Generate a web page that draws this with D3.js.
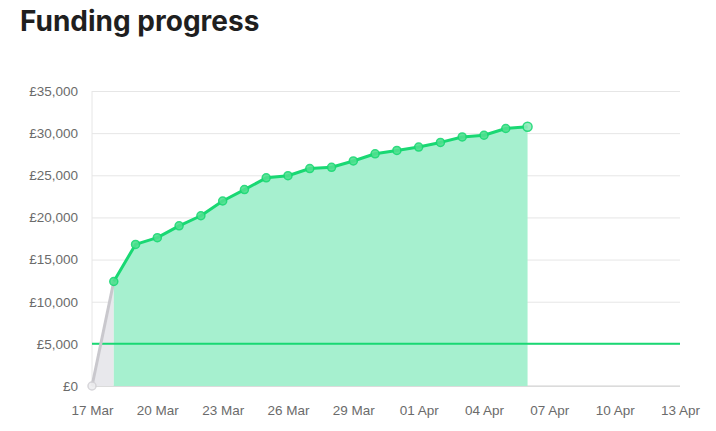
<!DOCTYPE html>
<html>
<head>
<meta charset="utf-8">
<script src="https://cdn.jsdelivr.net/npm/d3@7"></script>
<style>
  body { margin: 0; background: #fff; }
  svg text { font-family: "Liberation Sans", Arial, sans-serif; }
  .title { font-family: Inter, "Noto Sans", sans-serif; font-weight: 700; font-size: 28px; fill: #1f1f1f; }
  .axis text { font-size: 13.5px; fill: #6b6b6b; }
</style>
</head>
<body>
<svg id="chart"></svg>
<script>
// Daily cumulative totals (first point is the launch day)
const dates = ['2020-03-17','2020-03-18','2020-03-19','2020-03-20','2020-03-21','2020-03-22','2020-03-23',
  '2020-03-24','2020-03-25','2020-03-26','2020-03-27','2020-03-28','2020-03-29','2020-03-30','2020-03-31',
  '2020-04-01','2020-04-02','2020-04-03','2020-04-04','2020-04-05','2020-04-06'];
const amounts = [0, 12400, 16800, 17600, 19000, 20200, 21950, 23300, 24700, 24950, 25800, 25950,
  26700, 27550, 27950, 28350, 28900, 29550, 29750, 30550, 30750];
const target = 5000;
const xDomain = ['2020-03-17', '2020-04-13'];
const yTicks = [0, 5000, 10000, 15000, 20000, 25000, 30000, 35000];

const width = 716, height = 431;
const margin = {top: 91, right: 36, bottom: 45, left: 92};
const innerW = width - margin.left - margin.right;
const innerH = height - margin.top - margin.bottom;

const green = '#19d873', greenFill = '#a6f0cf', grey = '#c9c8cd', greyFill = '#e8e8ec';

const parse = d3.utcParse('%Y-%m-%d');
const data = dates.map((d, i) => ({date: parse(d), value: amounts[i]}));

const svg = d3.select('#chart').attr('width', width).attr('height', height);

svg.append('text').attr('class', 'title').attr('x', 20).attr('y', 31).text('Funding progress');

const x = d3.scaleUtc().domain(xDomain.map(parse)).range([0, innerW]);
const y = d3.scaleLinear().domain([0, 35000]).range([innerH, 0]);

const g = svg.append('g').attr('transform', `translate(${margin.left},${margin.top})`);

// y axis with gridlines
const yAxis = d3.axisLeft(y).tickValues(yTicks).tickSize(10)
  .tickFormat(d => '£' + d3.format(',')(d));
const yG = g.append('g').attr('class', 'axis').call(yAxis);
yG.select('.domain').remove();
yG.selectAll('.tick line').attr('x2', innerW).attr('stroke', '#e6e6e6');
yG.selectAll('.tick text').attr('x', -14);

g.append('line').attr('x1', 0).attr('x2', 0).attr('y1', 0).attr('y2', innerH)
  .attr('stroke', '#e6e6e6');

// x axis, a tick every third day from the start
const [x0, x1] = x.domain();
const xTicks = d3.utcDay.range(x0, d3.utcDay.offset(x1, 1), 3);
const xAxis = d3.axisBottom(x).tickValues(xTicks).tickSize(0)
  .tickFormat(d3.utcFormat('%d %b'));
const xG = g.append('g').attr('class', 'axis').attr('transform', `translate(0,${innerH})`).call(xAxis);
xG.select('.domain').attr('stroke', '#d0d0d0').attr('d', `M0,0H${innerW}`);
xG.selectAll('.tick text').attr('dy', 0).attr('y', 29);

const area = d3.area().x(d => x(d.date)).y0(innerH).y1(d => y(d.value));
const line = d3.line().x(d => x(d.date)).y(d => y(d.value));

const pre = data.slice(0, 2), post = data.slice(1);

g.append('path').datum(pre).attr('d', area).attr('fill', greyFill);
g.append('path').datum(post).attr('d', area).attr('fill', greenFill);

// target line
g.append('line').attr('x1', 0).attr('x2', innerW).attr('y1', y(target)).attr('y2', y(target))
  .attr('stroke', green).attr('stroke-width', 2);

g.append('path').datum(pre).attr('d', line).attr('fill', 'none')
  .attr('stroke', grey).attr('stroke-width', 3);
g.append('path').datum(post).attr('d', line).attr('fill', 'none')
  .attr('stroke', green).attr('stroke-width', 3).attr('stroke-linejoin', 'round');

g.selectAll('.pt').data(data).join('circle')
  .attr('class', 'pt')
  .attr('cx', d => x(d.date)).attr('cy', d => y(d.value))
  .attr('r', (d, i) => i === data.length - 1 ? 4.5 : 4)
  .attr('fill', (d, i) => i === 0 ? '#eeeef0' : i === data.length - 1 ? '#8eeab9' : '#4fe08f')
  .attr('stroke', (d, i) => i === 0 ? '#d3d2d6' : green)
  .attr('stroke-width', 1.5)
  .attr('opacity', 0.9);
</script>
</body>
</html>
